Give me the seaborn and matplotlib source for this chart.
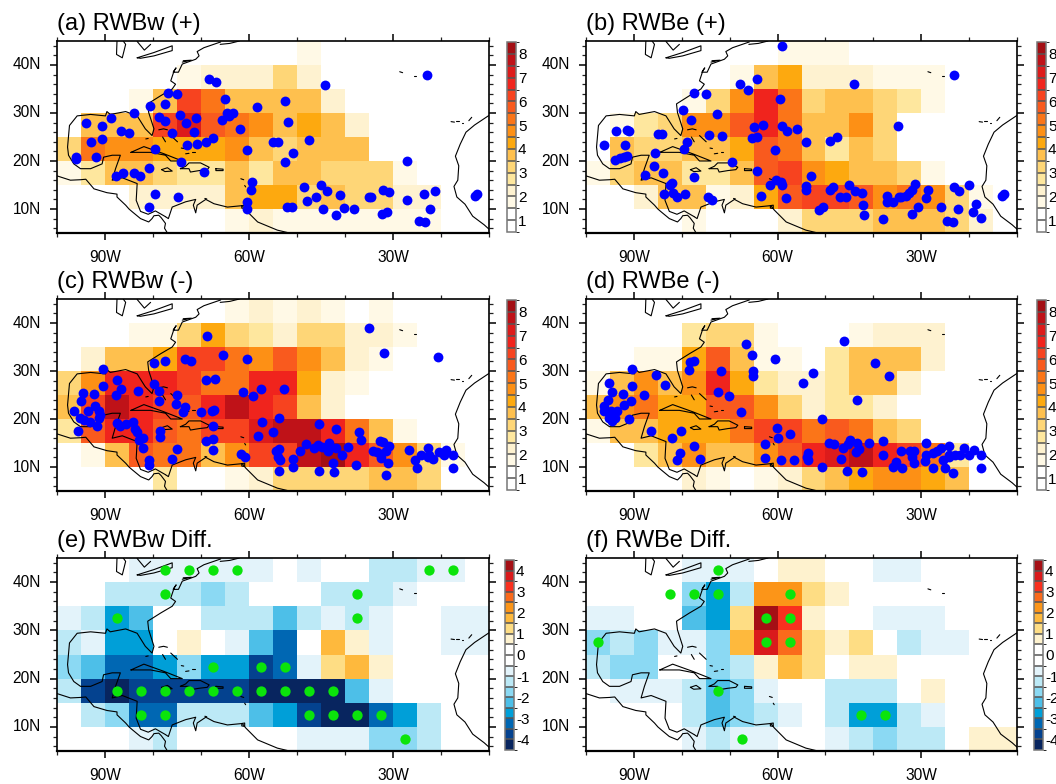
"""Six-panel RWB density maps over the tropical Atlantic."""

import matplotlib.pyplot as plt
import numpy as np
import seaborn as sns
from matplotlib.colors import BoundaryNorm, ListedColormap
from matplotlib.ticker import FixedLocator

WIDTH, HEIGHT = 1056, 784

# cell values, rows from 40-45N down to 5-10N, columns from 100-95W to 15-10W
a_cells = [
    [0, 0, 0, 0, 0, 0, 0, 0, 0, 0, 1.75, 0, 0, 0, 0, 0, 0, 0],
    [0, 0, 0, 0, 0, 1.75, 2.25, 2.25, 2.25, 3.25, 2.25, 0, 0, 0, 0, 0, 0, 0],
    [0, 0, 0, 1.75, 3.75, 6.25, 5.25, 3.75, 3.75, 3.75, 3.75, 2.25, 0, 0, 0, 0, 0, 0],
    [0, 3.75, 3.75, 3.75, 6.25, 7.25, 5.75, 5.25, 4.75, 3.75, 4.25, 3.75, 2.25, 0, 0, 0, 0, 0],
    [3.25, 5.25, 4.75, 4.75, 4.25, 4.25, 4.25, 4.75, 3.75, 3.25, 3.75, 3.75, 3.75, 0, 0, 0, 0, 0],
    [1.75, 2.75, 3.75, 3.75, 3.25, 2.75, 2.75, 3.75, 2.75, 3.75, 3.75, 3.25, 3.25, 3.25, 1.75, 0, 0, 0],
    [0, 0, 0, 2.25, 2.25, 2.25, 2.25, 3.75, 4.25, 4.25, 3.25, 3.75, 3.25, 3.25, 2.25, 2.25, 0, 0],
    [0, 0, 0, 0, 0, 0, 0, 1.75, 2.25, 1.75, 1.75, 1.75, 1.75, 1.75, 1.75, 1.75, 0, 0],
]
b_cells = [
    [0, 0, 0, 0, 0, 0, 0, 0, 1.75, 1.75, 1.75, 0, 0, 0, 0, 0, 0, 0],
    [0, 0, 0, 0, 0, 0, 1.75, 3.75, 4.25, 2.25, 2.25, 2.25, 1.75, 1.75, 1.75, 0, 0, 0],
    [0, 0, 0, 0, 1.75, 3.25, 4.75, 6.75, 5.25, 3.25, 3.75, 3.75, 3.25, 2.75, 1.75, 0, 0, 0],
    [0, 1.75, 2.75, 3.25, 4.75, 4.75, 5.75, 6.75, 5.25, 3.75, 3.75, 4.75, 3.25, 0, 0, 0, 0, 0],
    [0, 3.75, 3.25, 3.25, 3.75, 3.75, 4.25, 5.75, 5.25, 3.75, 2.75, 3.75, 3.25, 0, 0, 0, 0, 0],
    [1.75, 3.25, 3.75, 3.75, 2.75, 2.75, 3.75, 5.75, 6.25, 4.75, 4.25, 3.75, 3.75, 3.25, 1.75, 0, 0, 0],
    [0, 0, 2.25, 3.75, 3.75, 1.75, 2.25, 4.25, 5.75, 6.25, 6.25, 5.75, 4.75, 5.25, 4.75, 3.25, 1.75, 0],
    [0, 0, 0, 0, 1.75, 0, 0, 0, 2.25, 3.25, 3.25, 3.25, 3.75, 3.75, 3.75, 3.25, 2.25, 0],
]
c_cells = [
    [0, 0, 0, 0, 0, 0, 0, 1.75, 2.25, 1.75, 2.25, 1.75, 0, 1.75, 0, 0, 0, 0],
    [0, 0, 0, 1.75, 1.75, 3.25, 4.25, 3.25, 2.75, 2.25, 3.25, 3.25, 2.25, 2.25, 1.75, 0, 0, 0],
    [0, 2.25, 3.75, 3.75, 4.25, 6.25, 6.25, 5.25, 4.75, 5.75, 4.75, 3.75, 2.25, 1.75, 0, 0, 0, 0],
    [3.25, 4.75, 6.75, 6.75, 6.75, 6.25, 5.25, 5.25, 6.75, 6.75, 4.25, 2.25, 1.75, 0, 0, 0, 0, 0],
    [3.75, 6.25, 7.75, 6.75, 6.25, 5.75, 6.75, 7.75, 6.75, 6.25, 3.75, 2.25, 0, 0, 0, 0, 0, 0],
    [2.75, 5.75, 6.75, 6.75, 5.75, 5.25, 6.25, 6.25, 7.25, 7.75, 7.75, 6.75, 5.25, 3.75, 1.75, 0, 0, 0],
    [0, 1.75, 3.75, 5.75, 5.25, 5.25, 3.75, 4.75, 6.25, 6.25, 7.75, 8.25, 6.75, 5.75, 4.75, 3.25, 1.75, 0],
    [0, 0, 0, 0, 2.75, 0, 0, 1.75, 2.25, 3.25, 3.25, 3.25, 3.25, 3.75, 3.75, 3.25, 0, 0],
]
d_cells = [
    [0, 0, 0, 0, 0, 0, 0, 0, 0, 0, 0, 0, 0, 0, 0, 0, 0, 0],
    [0, 0, 0, 0, 2.75, 3.25, 3.25, 1.75, 0, 0, 0, 1.75, 2.25, 2.25, 2.25, 0, 0, 0],
    [0, 0, 1.75, 1.75, 4.25, 5.75, 3.75, 1.75, 1.75, 0, 2.75, 3.75, 3.75, 3.75, 2.25, 0, 0, 0],
    [1.75, 3.75, 4.75, 3.75, 4.75, 6.75, 4.25, 2.75, 2.25, 2.25, 2.75, 3.75, 3.75, 2.25, 0, 0, 0, 0],
    [3.75, 4.75, 5.25, 4.25, 4.25, 5.75, 5.75, 4.75, 3.25, 2.25, 2.75, 2.75, 2.25, 0, 0, 0, 0, 0],
    [1.75, 3.75, 3.75, 4.25, 4.25, 4.25, 5.25, 6.25, 6.25, 5.25, 5.75, 5.25, 3.75, 3.25, 0, 0, 0, 0],
    [0, 0, 2.75, 3.75, 4.75, 3.75, 3.75, 4.75, 5.75, 6.75, 7.25, 7.75, 6.75, 6.25, 5.25, 2.75, 0, 0],
    [0, 0, 0, 0, 2.25, 1.75, 0, 1.75, 2.25, 3.25, 3.75, 4.25, 4.75, 4.75, 4.25, 3.75, 0, 0],
]
e_cells = [
    [0, 0, 0, -0.75, -0.75, -0.75, -0.75, -0.75, -0.75, 0, -0.75, 0, 0, -1.25, -1.25, -0.75, -0.75, 0],
    [0, 0, -1.25, -1.25, -1.25, -1.25, -1.75, -1.25, 0, 0, 0, -1.25, -1.25, -1.25, -0.75, 0, 0, 0],
    [-0.75, -1.25, -2.75, -2.25, 0, 0, -1.25, -1.25, -1.25, -2.25, -1.25, -0.75, -1.25, -0.75, 0, 0, -0.75, -0.75],
    [-1.25, -0.75, -2.75, -2.75, 0, 0.75, 0, -0.75, -2.25, -3.25, 0, 1.75, 0.75, -0.75, 0, 0, -0.75, -0.75],
    [-1.75, -2.25, -3.25, -3.25, -2.75, -1.75, -2.75, -2.75, -3.75, -3.25, -0.75, 1.25, 1.75, 0.75, 0, 0, 0, 0],
    [-1.25, -3.75, -4.25, -3.75, -3.75, -3.75, -3.75, -3.75, -4.25, -4.25, -4.25, -4.25, -2.25, -0.75, 0, 0, 0, 0],
    [0, -1.25, -1.75, -3.25, -3.25, -1.25, -1.25, -1.25, -2.25, -2.75, -3.75, -4.25, -4.25, -3.25, -2.75, -1.25, 0, 0],
    [0, 0, 0, -0.75, -1.25, 0, 0, 0, 0, 0, -0.75, -0.75, -0.75, -1.75, -1.75, -1.25, 0, 0],
]
f_cells = [
    [0, 0, 0, 0, -0.75, -0.75, -0.75, 0, 0.75, 0.75, 0, 0, -0.75, -0.75, 0, 0, 0, 0],
    [0, 0, 0, 0, -1.75, -2.75, -1.25, 2.25, 2.25, 1.25, 0.75, 0, 0, 0, 0, 0, 0, 0],
    [-0.75, -0.75, 0, 0, -2.25, -2.75, 1.25, 4.25, 3.25, 0.75, 0, 0, -0.75, -0.75, -0.75, 0, 0, 0],
    [-1.75, -1.25, -1.75, -0.75, -0.75, -1.75, 1.75, 3.75, 2.75, 1.25, 0.75, 1.25, 0, -1.25, -0.75, -0.75, 0, 0],
    [-1.25, -1.75, -1.75, 0, 0, -1.75, -1.25, 0.75, 1.75, 1.25, 0, 0.75, 0.75, 0, 0, 0, 0, 0],
    [0, -0.75, -0.75, -0.75, -1.25, -2.25, -1.75, -0.75, 0, 0, -1.25, -1.25, -1.25, 0, 0.75, 0, 0, 0],
    [0, 0, 0, 0, -1.25, -2.25, -1.75, -1.25, -0.75, 0, -1.25, -2.75, -2.75, -1.25, -0.75, 0, 0, 0],
    [0, 0, 0, 0, -0.75, -1.25, -0.75, -0.75, 0, 0, -0.75, -1.25, -1.75, -1.25, -1.25, 0, 0.75, 0.75],
]

# blue points, degrees west and north
a_lon = [68.3, 66.9, 44.1, 23.0, 76.9, 75.0, 77.4, 80.6, 65.0, 58.3, 52.4, 84.0, 88.7, 93.9, 90.6, 86.7, 85.1, 78.8, 77.6, 74.3, 73.1, 71.0, 71.4, 76.0, 65.6, 64.5, 64.2, 63.3, 61.8, 51.8, 54.9, 53.9, 47.5, 50.8, 52.6, 60.4, 67.6, 69.0, 70.8, 73.0, 79.6, 93.0, 90.6, 91.8, 96.1, 96.1, 74.1, 69.3, 80.8, 87.8, 86.3, 83.9, 82.7, 79.6, 80.8, 74.8, 59.3, 59.6, 60.5, 60.5, 52.1, 51.0, 48.5, 47.9, 46.0, 45.0, 43.8, 44.6, 41.9, 40.3, 41.0, 38.1, 35.1, 34.5, 32.1, 30.8, 32.2, 31.2, 27.0, 27.0, 23.5, 21.3, 22.2, 24.5, 23.4, 13.0, 12.6]
a_lat = [37.0, 36.5, 35.9, 37.9, 34.1, 33.9, 31.9, 31.4, 32.9, 31.3, 32.6, 30.1, 29.0, 28.0, 27.2, 26.3, 25.9, 29.1, 28.4, 29.5, 27.9, 29.0, 26.1, 25.9, 28.6, 30.0, 29.3, 30.0, 26.6, 28.2, 23.9, 23.9, 24.3, 21.7, 19.8, 22.2, 24.7, 24.0, 23.6, 23.4, 22.4, 23.9, 24.5, 20.9, 20.9, 20.4, 19.7, 17.8, 18.5, 16.9, 17.5, 17.4, 16.9, 13.2, 10.5, 12.6, 15.6, 14.0, 11.5, 10.0, 10.4, 10.4, 14.6, 11.7, 12.6, 15.0, 13.7, 10.1, 8.8, 10.3, 13.0, 10.0, 12.4, 12.4, 13.9, 13.5, 9.0, 9.4, 19.9, 11.9, 13.2, 13.7, 10.1, 7.4, 7.2, 12.7, 13.2]
b_lon = [59.0, 67.9, 64.3, 66.1, 44.0, 23.1, 77.5, 75.0, 59.5, 79.7, 72.7, 78.1, 93.7, 91.4, 91.0, 84.9, 84.2, 74.4, 71.5, 64.9, 63.0, 59.0, 58.0, 55.9, 65.4, 64.2, 54.0, 49.1, 47.5, 34.9, 96.2, 91.8, 79.0, 79.6, 60.5, 85.6, 94.0, 92.8, 92.1, 91.5, 69.5, 85.7, 83.9, 87.7, 77.5, 64.3, 53.0, 60.4, 59.3, 59.0, 61.5, 82.0, 82.4, 83.7, 81.9, 81.0, 79.4, 74.6, 73.7, 63.4, 58.3, 54.0, 54.0, 49.1, 48.5, 45.0, 47.0, 45.8, 43.9, 42.3, 42.1, 41.9, 51.3, 50.6, 38.0, 37.1, 37.1, 35.8, 34.7, 33.1, 32.5, 31.9, 31.3, 34.3, 32.0, 30.7, 29.1, 28.5, 25.8, 24.7, 23.4, 23.2, 22.2, 22.3, 20.1, 18.5, 19.1, 17.5, 13.2, 12.7]
b_lat = [44.0, 36.0, 37.1, 34.7, 36.0, 38.0, 34.2, 34.0, 33.0, 30.7, 29.7, 28.5, 26.3, 26.5, 26.2, 25.6, 25.7, 25.5, 25.3, 27.1, 27.5, 27.3, 26.2, 26.7, 24.7, 25.0, 23.9, 24.2, 24.9, 27.2, 23.4, 23.3, 23.9, 22.4, 22.2, 21.6, 20.2, 20.6, 20.8, 21.0, 19.8, 18.9, 17.4, 17.0, 16.6, 17.9, 16.8, 16.1, 15.6, 15.0, 15.0, 15.4, 15.0, 13.2, 13.3, 12.6, 13.2, 12.6, 11.8, 12.7, 12.3, 14.8, 14.0, 13.9, 14.5, 14.9, 12.5, 12.6, 13.7, 13.3, 10.9, 8.7, 9.8, 10.5, 8.0, 12.8, 11.5, 11.5, 12.5, 12.8, 13.4, 14.0, 15.3, 12.5, 9.0, 10.4, 12.3, 13.9, 10.4, 7.4, 7.2, 14.5, 13.8, 10.1, 14.9, 11.0, 9.4, 8.2, 12.7, 13.2]
c_lon = [68.8, 35.0, 31.8, 20.6, 79.8, 77.6, 73.4, 72.0, 65.4, 60.5, 90.4, 87.5, 90.4, 86.7, 87.8, 83.1, 79.8, 78.8, 78.8, 75.0, 75.2, 73.3, 73.8, 68.9, 67.0, 61.2, 59.2, 57.5, 52.7, 94.6, 92.3, 94.9, 92.0, 96.5, 93.6, 91.2, 91.0, 95.2, 94.3, 93.1, 91.2, 91.7, 95.7, 87.5, 86.8, 85.6, 84.1, 83.7, 83.4, 82.0, 82.9, 82.0, 80.8, 80.9, 78.6, 78.6, 74.9, 76.1, 70.0, 67.8, 67.2, 67.6, 69.0, 67.6, 67.5, 61.7, 60.9, 57.3, 58.1, 54.9, 53.8, 54.4, 53.8, 53.9, 53.6, 53.8, 50.8, 50.8, 49.3, 48.2, 46.4, 45.7, 44.8, 43.4, 43.6, 41.8, 45.5, 41.9, 40.7, 39.4, 42.4, 45.5, 42.2, 37.7, 37.0, 36.6, 34.2, 33.3, 32.8, 32.0, 30.8, 31.4, 32.4, 32.6, 31.1, 31.4, 26.6, 25.4, 25.1, 24.2, 22.7, 22.7, 22.4, 21.6, 20.5, 19.3, 18.9, 17.5, 17.4]
c_lat = [37.2, 39.0, 33.8, 32.9, 31.7, 32.0, 32.4, 32.0, 33.3, 32.6, 30.4, 28.1, 26.9, 26.2, 25.0, 25.8, 27.3, 25.9, 23.8, 25.1, 23.1, 22.4, 21.5, 28.2, 28.4, 25.6, 24.7, 26.2, 26.2, 25.5, 25.3, 23.8, 22.8, 21.7, 21.7, 21.7, 20.9, 20.2, 19.8, 19.4, 20.2, 18.5, 17.6, 19.1, 18.5, 19.0, 19.4, 17.9, 17.2, 16.0, 15.7, 14.0, 11.5, 10.4, 17.6, 16.3, 13.7, 11.7, 21.5, 21.6, 21.9, 18.5, 15.4, 15.9, 13.5, 12.7, 12.1, 19.4, 16.4, 17.2, 20.2, 13.3, 13.8, 12.0, 11.5, 9.1, 11.7, 9.9, 13.3, 14.8, 14.0, 14.6, 14.2, 14.9, 13.4, 14.0, 19.0, 17.9, 12.6, 14.1, 10.8, 9.1, 9.0, 10.5, 17.2, 15.6, 13.4, 13.2, 15.5, 15.2, 14.4, 13.3, 12.8, 11.9, 10.8, 8.4, 13.5, 11.4, 9.7, 12.6, 14.0, 12.0, 12.6, 11.6, 13.1, 12.5, 13.6, 12.6, 9.7]
d_lon = [46.1, 66.5, 65.4, 60.6, 78.2, 77.4, 78.4, 71.8, 65.2, 65.2, 52.6, 54.6, 39.7, 36.8, 43.4, 90.3, 85.4, 83.5, 90.3, 95.1, 94.5, 92.3, 87.9, 90.7, 92.0, 95.4, 96.2, 96.3, 94.7, 93.5, 94.0, 95.1, 94.5, 91.1, 72.5, 70.1, 67.7, 86.5, 82.0, 80.2, 80.4, 80.9, 77.4, 76.1, 60.2, 60.0, 62.7, 62.6, 59.2, 57.3, 56.6, 53.7, 53.9, 53.7, 50.8, 50.8, 49.2, 48.2, 46.8, 45.6, 46.4, 45.3, 44.8, 43.4, 43.0, 43.7, 42.3, 41.0, 38.0, 38.0, 35.2, 35.9, 34.0, 34.3, 32.4, 31.6, 32.0, 31.6, 29.0, 29.0, 29.2, 27.6, 26.8, 25.8, 27.6, 25.1, 25.4, 24.1, 24.1, 24.1, 23.0, 21.8, 21.1, 23.4, 20.0, 19.0, 17.5, 17.5]
d_lat = [36.3, 35.6, 33.3, 32.6, 31.8, 32.1, 30.3, 30.1, 30.1, 29.0, 29.5, 27.6, 31.6, 29.0, 24.0, 30.5, 29.1, 27.1, 26.9, 27.4, 25.6, 25.3, 25.1, 23.8, 22.9, 24.0, 22.7, 21.6, 21.7, 21.7, 20.3, 20.3, 19.5, 20.1, 25.6, 24.7, 21.5, 17.4, 16.0, 17.4, 12.9, 11.4, 14.4, 11.6, 18.1, 16.0, 14.7, 11.9, 11.4, 16.8, 11.5, 13.0, 12.0, 11.5, 9.9, 20.1, 15.1, 14.8, 11.6, 9.1, 13.9, 14.8, 15.7, 14.9, 13.7, 13.1, 9.0, 14.9, 15.5, 12.4, 11.1, 10.1, 9.8, 13.4, 13.3, 13.4, 12.0, 10.8, 14.9, 12.4, 11.2, 12.9, 13.4, 14.0, 9.7, 9.7, 11.4, 14.3, 12.5, 12.0, 12.6, 12.4, 14.0, 8.7, 12.4, 13.6, 12.6, 9.7]

# green significance points
e_lon = [77.5, 72.5, 67.5, 62.5, 22.5, 17.5, 77.5, 37.5, 87.5, 37.5, 67.5, 57.5, 52.5, 87.5, 82.5, 77.5, 72.5, 67.5, 62.5, 57.5, 52.5, 47.5, 42.5, 82.5, 77.5, 47.5, 42.5, 37.5, 32.5, 27.5]
e_lat = [42.5, 42.5, 42.5, 42.5, 42.5, 42.5, 37.5, 37.5, 32.5, 32.5, 22.5, 22.5, 22.5, 17.5, 17.5, 17.5, 17.5, 17.5, 17.5, 17.5, 17.5, 17.5, 17.5, 12.5, 12.5, 12.5, 12.5, 12.5, 12.5, 7.5]
f_lon = [72.5, 82.5, 77.5, 72.5, 57.5, 62.5, 57.5, 97.5, 62.5, 57.5, 72.5, 42.5, 37.5, 67.5]
f_lat = [42.5, 37.5, 37.5, 37.5, 37.5, 32.5, 32.5, 27.5, 27.5, 27.5, 17.5, 12.5, 12.5, 7.5]

# base map outlines, (degrees west, degrees north)
pacific_coast = [(100, 16.9), (97.2, 16), (95.1, 16.1), (94, 16.2), (92.3, 14.2), (89.6, 13.4), (87.5, 13.1), (87.5, 12.5), (85.7, 10.8), (85, 10), (84.3, 9.4), (82.6, 8), (80.9, 7.3), (80.2, 8), (79.8, 8.6), (78.8, 8.7), (78.3, 8.2), (77.4, 7), (77.6, 6), (77, 5)]
gulf_coast = [(77.4, 8.4), (79.5, 9.6), (81, 8.9), (82.6, 9.5), (83.5, 11.8), (83.3, 15.3), (86.4, 16.5), (88.5, 16), (87.8, 18.4), (86.8, 21.2), (88.5, 21.2), (90.3, 20.8), (90.6, 19.4), (93, 18.4), (95.1, 18.4), (96.5, 19.4), (97.6, 21.2), (97.8, 22.9), (97.4, 27.4), (95.8, 29.4), (93, 29.7), (89.9, 29.4), (89.6, 30.3), (88.9, 29.7), (85.7, 30.3), (83.3, 29.4), (81.6, 26.7), (80.2, 25.3), (79.8, 26.7), (80.9, 30.1), (81.1, 31.9), (78.4, 33.6), (76, 35), (75.3, 36), (76.3, 36.7), (75.6, 38.8), (75.2, 39.4), (75.8, 38.5), (74.7, 38.5), (73.9, 40.2), (71.1, 41.2), (70.4, 41.9), (70.8, 42.8), (69.4, 43.6), (65.9, 44.8)]
long_island = [(73.9, 40.6), (72, 41), (73.7, 40.9)]
nova_scotia = [(66, 44.3), (64, 44.5), (62, 45)]
south_america = [(77.4, 8.4), (76.8, 8), (76, 10.4), (75.5, 10.6), (73.2, 11.5), (71.1, 12), (71.6, 10.8), (71.1, 9.2), (70.8, 10.8), (69, 12), (67.3, 11.1), (64.5, 10.4), (61.4, 10.7), (60.7, 9.8), (58.2, 7.3), (54.1, 5.6), (52, 5.1)]
lake_michigan = [(87.5, 45), (87.6, 42.2), (86.4, 41.5), (85.7, 44.3), (86.2, 45)]
lake_erie = [(83.3, 41.5), (79.8, 42.6), (76, 44), (76, 43), (79.8, 41.9), (82.6, 41.4), (83.3, 41.5)]
lake_huron = [(83.3, 44.9), (81.8, 43.1), (80.5, 44.3)]
cuba = [(84.6, 21.8), (81.9, 23), (77.7, 21.5), (73.9, 20), (76.3, 20), (77.4, 21.2), (80.5, 21.8), (82.6, 21.8), (84.6, 21.8)]
hispaniola = [(74.3, 18.4), (73.2, 18.9), (72.5, 19.6), (70.1, 19.6), (68.3, 18.7), (68.7, 18.2), (70.4, 18), (72.2, 17.7), (72.5, 18.4), (74.3, 18.4)]
jamaica = [(78.2, 18.2), (77, 18.6), (76, 17.9), (77.5, 17.8), (78.2, 18.2)]
puerto_rico = [(66.9, 18.4), (65.4, 18.3), (65.4, 18), (66.9, 18), (66.9, 18.4)]
trinidad = [(61.5, 10.7), (60.9, 10.8), (60.9, 10.1), (61.5, 10.2), (61.5, 10.7)]
bahamas = [[(78.8, 26.5), (77.8, 26.7), (77, 26.5)], [(78, 25), (77.4, 24)], [(76.3, 25.3), (74.9, 24)], [(74.1, 22.7), (73.6, 22.6)], [(73.2, 21.5), (72.5, 21.6)], [(71.8, 21.9), (71.3, 21.9)], [(81.5, 24.6), (81, 24.7)]]
antilles = [[(61.7, 16.3), (61.1, 16.1)], [(60.9, 14.9), (60.7, 14.6)], [(69.2, 12.2), (68.8, 12.1)]]
canaries = [[(17.9, 28.2), (17.2, 28.1)], [(16.8, 28.3), (16.2, 28.3)], [(15.7, 28), (15.4, 28)], [(14.2, 28.4), (13.6, 29.1)]]
azores = [[(28.6, 38.6), (28, 38.4)], [(25.7, 37.8), (25.2, 37.8)]]
africa = [(10, 29.5), (13, 27.5), (14.8, 26), (16, 23.5), (17, 21), (16.3, 19), (16.5, 16), (17.3, 14.7), (16.7, 12.5), (15, 11), (13.4, 8.5), (11, 6.7), (10, 5.8)]

density_levels = np.arange(0.5, 8.75, 0.5)
density_colors = ["#FFFFFF", "#FFFFFF", "#FFF9E6", "#FEF2D0", "#FEE79E", "#FED677", "#FEC04E", "#FDA90F",
                  "#FD9015", "#FB7518", "#F95A1E", "#F7431F", "#F0241D", "#DD1B1B", "#BF1218", "#A30F14"]
diff_levels = np.arange(-4.5, 4.75, 0.5)
diff_colors = ["#08255F", "#04428F", "#0067B3", "#009FD8", "#4DBFE8", "#8BD9F3", "#BCE9F6", "#E3F3FA", "#FFFFFF",
               "#FFFFFF", "#FEF2CE", "#FEDD84", "#FEB93D", "#FC9518", "#FA6A1B", "#F9301F", "#DA1A1C", "#A50F15"]

sns.set_style("white")
plt.rcParams["font.family"] = ["Liberation Sans", "DejaVu Sans"]
plt.rcParams["axes.unicode_minus"] = False
plt.rcParams["text.color"] = "black"
plt.rcParams["xtick.color"] = "black"
plt.rcParams["ytick.color"] = "black"

COAST_LINES = [pacific_coast, gulf_coast, long_island, nova_scotia, south_america, lake_michigan, lake_erie, lake_huron,
               cuba, hispaniola, jamaica, puerto_rico, trinidad, africa] + bahamas + antilles + canaries + azores


def to_x(lon_west):
    return (100 - np.asarray(lon_west, dtype=float)) / 5


def to_y(lat):
    return (45 - np.asarray(lat, dtype=float)) / 5


def px_axes(fig, left, top, right, bottom):
    return fig.add_axes([left / WIDTH, 1 - bottom / HEIGHT, (right - left) / WIDTH, (bottom - top) / HEIGHT])


def draw_panel(fig, box, bar_box, title, cells, lon, lat, color, size, levels, colors, bar_ticks):
    ax = px_axes(fig, *box)
    cax = px_axes(fig, *bar_box)
    norm = BoundaryNorm(levels, len(colors), clip=True)
    sns.heatmap(np.array(cells), ax=ax, cbar_ax=cax, cmap=ListedColormap(colors), norm=norm,
                cbar_kws={"ticks": bar_ticks, "drawedges": True, "spacing": "uniform"})

    for line in COAST_LINES:
        pts = np.array(line)
        ax.plot(to_x(pts[:, 0]), to_y(pts[:, 1]), color="black", lw=0.8, zorder=3)

    sns.scatterplot(x=to_x(lon), y=to_y(lat), ax=ax, color=color, s=size, linewidth=0, zorder=4, clip_on=True)

    ax.set_xlim(0, 18)
    ax.set_ylim(8, 0)
    ax.set_xticks(to_x([90, 60, 30]))
    ax.set_xticklabels(["90W", "60W", "30W"], rotation=0, fontsize=11.2)
    ax.set_yticks(to_y([40, 30, 20, 10]))
    ax.set_yticklabels(["40N", "30N", "20N", "10N"], rotation=0, fontsize=11.2)
    ax.xaxis.set_minor_locator(FixedLocator(to_x(np.arange(10, 101, 10))))
    ax.yaxis.set_minor_locator(FixedLocator(to_y(np.arange(6, 45, 2))))
    ax.tick_params(which="major", direction="out", length=5.2, width=1.1, color="black", pad=7,
                   top=True, right=True, bottom=True, left=True)
    ax.tick_params(which="minor", direction="out", length=2.6, width=0.9, color="#222222",
                   top=True, right=True, bottom=True, left=True)
    ax.tick_params(axis="y", which="major", pad=6.5)
    for name, spine in ax.spines.items():
        spine.set_visible(True)
        spine.set_color("black")
        spine.set_linewidth(1.6 if name == "bottom" else 1.2)
    ax.set_title(title, loc="left", fontsize=17, pad=8, color="black")

    cbar = ax.collections[0].colorbar
    cbar.dividers.set_color("#555555")
    cbar.dividers.set_linewidth(1.1)
    cbar.outline.set_edgecolor("#777777")
    cbar.outline.set_linewidth(1.1)
    cbar.set_ticks(bar_ticks, labels=[str(t) for t in bar_ticks])
    cbar.ax.tick_params(length=0, labelsize=11, pad=1.5)


fig = plt.figure(figsize=(WIDTH / 100, HEIGHT / 100), dpi=100)

density_ticks = [1, 2, 3, 4, 5, 6, 7, 8]
diff_ticks = [-4, -3, -2, -1, 0, 1, 2, 3, 4]
draw_panel(fig, (57, 41, 489, 233), (507, 42, 516, 232), "(a) RWBw (+)", a_cells, a_lon, a_lat, "#0000FF", 50,
           density_levels, density_colors, density_ticks)
draw_panel(fig, (586, 41, 1017, 233), (1037, 42, 1046, 232), "(b) RWBe (+)", b_cells, b_lon, b_lat, "#0000FF", 50,
           density_levels, density_colors, density_ticks)
draw_panel(fig, (57, 299, 489, 491), (507, 300, 516, 490), "(c) RWBw (-)", c_cells, c_lon, c_lat, "#0000FF", 50,
           density_levels, density_colors, density_ticks)
draw_panel(fig, (586, 299, 1017, 491), (1037, 300, 1046, 490), "(d) RWBe (-)", d_cells, d_lon, d_lat, "#0000FF", 50,
           density_levels, density_colors, density_ticks)
draw_panel(fig, (57, 558, 489, 751), (505, 560, 514, 750), "(e) RWBw Diff.", e_cells, e_lon, e_lat, "#0BE40B", 55,
           diff_levels, diff_colors, diff_ticks)
draw_panel(fig, (586, 558, 1017, 751), (1034, 560, 1043, 750), "(f) RWBe Diff.", f_cells, f_lon, f_lat, "#0BE40B", 55,
           diff_levels, diff_colors, diff_ticks)

fig.savefig("out.png", dpi=100)
